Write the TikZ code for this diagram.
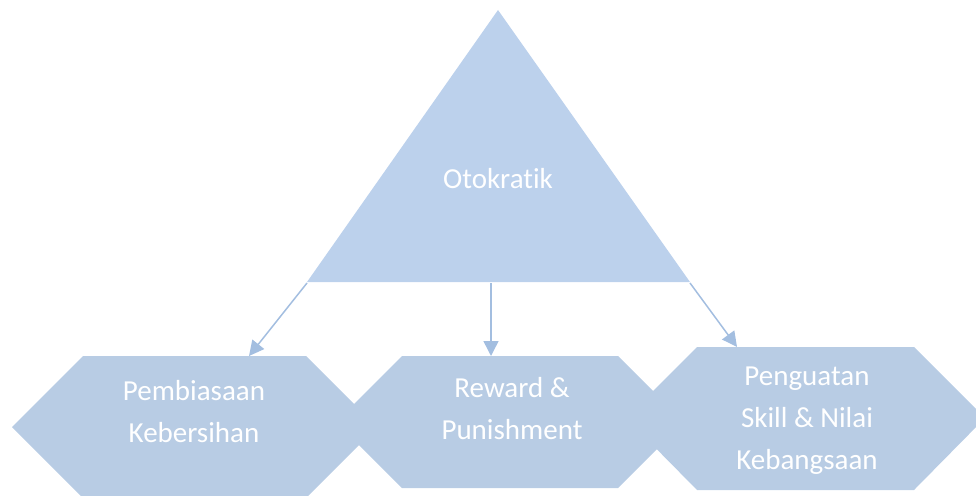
\documentclass[tikz,border=0pt]{standalone}
\usepackage{fontspec}
\setmainfont{Carlito}[Ligatures=NoCommon]
\usetikzlibrary{arrows.meta}
\definecolor{trifill}{HTML}{BCD1EC}
\definecolor{hexfill}{HTML}{B8CCE4}
\definecolor{linkcol}{HTML}{A3BEE0}
\tikzset{
  label text/.style={text=white, font=\fontsize{29}{42}\selectfont, align=center, inner sep=0pt},
  link/.style={draw=linkcol, line width=1.5pt, -{Triangle[length=15pt,width=15pt]}},
  hexshape/.style={fill=hexfill, draw=none}
}
\begin{document}
\begin{tikzpicture}[x=1pt, y=-1pt]
  \useasboundingbox (0,0) rectangle (976,495);

  % apex triangle
  \fill[trifill] (498,10) -- (690,282) -- (307,282) -- cycle;
  \node[label text] (oto) at (498,179) {Otokratik};

  % three hexagonal boxes
  \fill[hexshape] (83,356) -- (306,356) -- (377,427) -- (306,498) -- (83,498) -- (12,427) -- cycle;
  \fill[hexshape] (402,356) -- (618,356) -- (684,422) -- (618,488) -- (402,488) -- (336,422) -- cycle;
  \fill[hexshape] (697,347) -- (914,347) -- (985,418) -- (914,490) -- (697,490) -- (626,418) -- cycle;

  \node[label text] (hab) at (194,412) {Pembiasaan\\Kebersihan};
  \node[label text] (rew) at (512,409) {Reward \&\\Punishment};
  \node[label text] (skill) at (807,421) {Penguatan\\Skill \& Nilai\\Kebangsaan};

  % connector ends
  \coordinate (triL) at (307,283);
  \coordinate (triM) at (491,283);
  \coordinate (triR) at (690,283);
  \coordinate (habTop) at (249,356);
  \coordinate (rewTop) at (491,356);
  \coordinate (skillTop) at (737,347);

  \draw[link] (triL) -- (habTop);
  \draw[link] (triM) -- (rewTop);
  \draw[link] (triR) -- (skillTop);
\end{tikzpicture}
\end{document}
